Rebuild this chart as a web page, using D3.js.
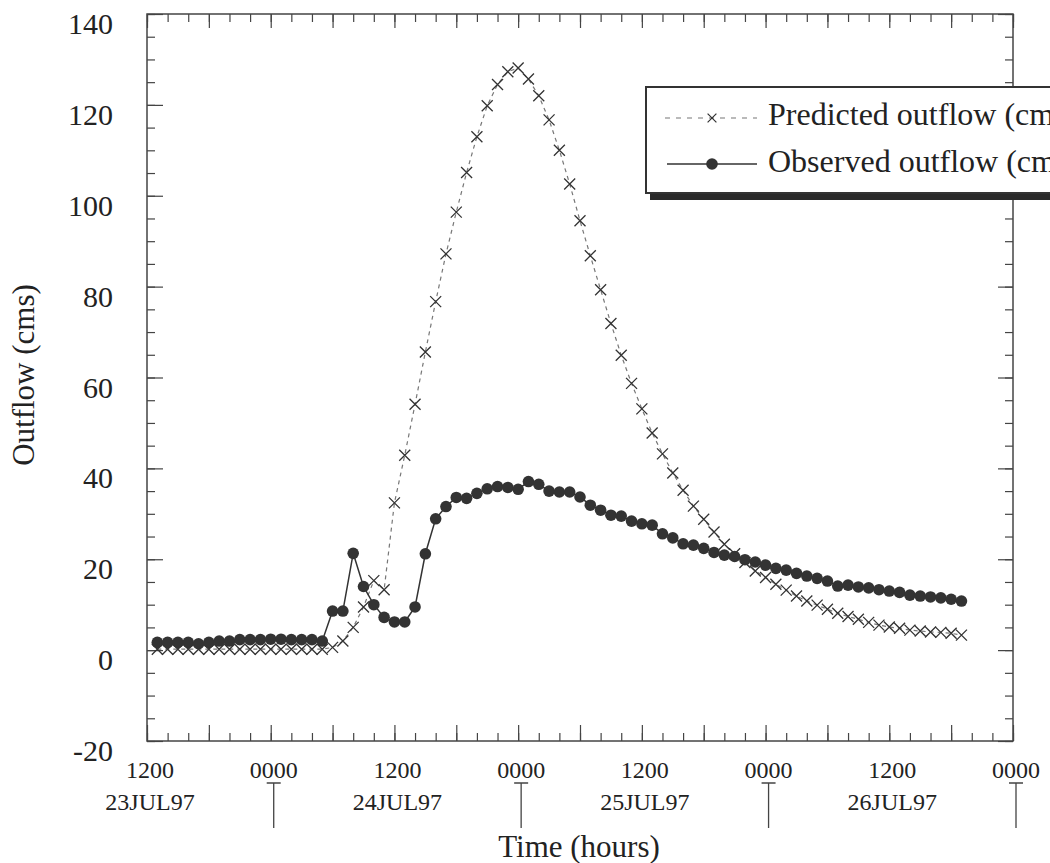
<!DOCTYPE html>
<html>
<head>
<meta charset="utf-8">
<script src="https://cdn.jsdelivr.net/npm/d3@7"></script>
<style>
    body { margin: 0; background: #fff; }
    text { font-family: "Liberation Serif", "Times New Roman", serif; fill: #222; }
</style>
</head>
<body>
<svg id="chart" width="1050" height="863"></svg>
<script>
// hourly samples, hours counted from 1200 23JUL97
const hours = d3.range(1, 80)

const observed = [
    1.7, 1.7, 1.7, 1.7, 1.4, 1.7, 2.0, 2.0, 2.3, 2.3, 2.3, 2.4, 2.4, 2.3, 2.3, 2.3, 2.0,
    8.6, 8.6, 21.3, 14.0, 10.0, 7.2, 6.2, 6.2, 9.5, 21.2,
    28.9, 31.6, 33.6, 33.4, 34.5, 35.5, 36.0, 35.8, 35.4, 37.1, 36.5, 35.0,
    34.8, 34.8, 33.7, 31.9, 30.8, 29.7, 29.5, 28.4, 27.8, 27.5,
    25.6, 24.7, 23.4, 23.1, 22.4, 21.5, 20.9, 20.6, 19.9, 19.4,
    18.7, 18.0, 17.6, 16.9, 16.3, 15.8, 15.2, 14.1, 14.3, 13.9,
    13.7, 13.3, 13.0, 12.7, 12.1, 11.9, 11.7, 11.5, 11.2, 10.8,
]

const predicted = [
    0.2, 0.2, 0.2, 0.2, 0.2, 0.2, 0.2, 0.2, 0.2, 0.2, 0.2, 0.2, 0.2, 0.2, 0.2, 0.2, 0.2,
    0.6, 2.0, 5.0, 9.5, 15.3, 13.3, 32.4, 42.9, 54.1, 65.6,
    76.7, 87.2, 96.4, 105.1, 113.0, 119.8, 124.5, 127.3, 128.1, 125.7, 122.0, 116.7,
    110.0, 102.6, 94.5, 86.8, 79.3, 71.9, 64.9, 58.7, 53.1, 47.8,
    43.2, 39.0, 35.2, 31.7, 28.8, 26.0, 23.3, 21.2, 19.3, 17.4,
    16.0, 14.5, 13.2, 11.9, 10.8, 9.9, 9.0, 8.1, 7.4, 6.8,
    6.1, 5.5, 5.1, 4.8, 4.4, 4.2, 4.0, 3.9, 3.7, 3.3,
]

const yTicks = [-20, 0, 20, 40, 60, 80, 100, 120, 140]
const clockLabels = ["1200", "0000", "1200", "0000", "1200", "0000", "1200", "0000"]
const dateLabels = ["23JUL97", "24JUL97", "25JUL97", "26JUL97"]
const legendLabels = ["Predicted outflow (cms)", "Observed outflow (cms)"]

const ink = "#333"
const svg = d3.select("#chart")

const x = d3.scaleLinear().domain([0, 84]).range([147, 1013])
const y = d3.scaleLinear().domain([-20, 140]).range([741, 14])
const [x0, x1] = x.range()
const [yb, yt] = y.range()

// inward ticks on all four sides
function ticks(axis, at, values, size) {
    const g = svg.append("g")
        .attr("transform", at)
        .call(axis.tickValues(values).tickSize(size).tickFormat(""))
    g.select(".domain").remove()
    g.selectAll("line").attr("stroke", "#444").attr("stroke-width", 1.2)
    return g
}
const minorX = d3.range(0, 85, 2), majorX = d3.range(0, 85, 6)
const minorY = d3.range(-20, 141, 5)
ticks(d3.axisBottom(x), `translate(0,${yb})`, minorX, -8)
ticks(d3.axisBottom(x), `translate(0,${yb})`, majorX, -16)
ticks(d3.axisTop(x), `translate(0,${yt})`, minorX, -8)
ticks(d3.axisTop(x), `translate(0,${yt})`, majorX, -14)
ticks(d3.axisLeft(y), `translate(${x0},0)`, minorY, -8)
ticks(d3.axisRight(y), `translate(${x1},0)`, minorY, -8)
ticks(d3.axisRight(y), `translate(${x1},0)`, yTicks, -15)

const left = svg.append("g")
    .attr("transform", `translate(${x0},0)`)
    .call(d3.axisLeft(y).tickValues(yTicks).tickSize(-16).tickPadding(34)
        .tickFormat((d) => String(d)))
left.select(".domain").remove()
left.selectAll("line").attr("stroke", "#444").attr("stroke-width", 1.2)
left.selectAll("text")
    .attr("dy", "0.65em")
    .style("font-size", "30px")
    .attr("fill", "#222")

svg.append("rect")
    .attr("x", x0).attr("y", yt)
    .attr("width", x1 - x0).attr("height", yb - yt)
    .attr("fill", "none").attr("stroke", "#444").attr("stroke-width", 1.5)

// time labels under the axis
const lab = svg.append("g").attr("transform", "translate(3,0)")
lab.selectAll(".clock")
    .data(clockLabels)
    .join("text")
    .attr("x", (d, i) => x(i * 12))
    .attr("y", 778)
    .attr("text-anchor", "middle")
    .style("font-size", "24px")
    .text((d) => d)
lab.selectAll(".date")
    .data(dateLabels)
    .join("text")
    .attr("x", (d, i) => x(i * 24))
    .attr("y", 810)
    .attr("text-anchor", "middle")
    .style("font-size", "24px")
    .text((d) => d)
const midnights = d3.range(12, 85, 24)
lab.selectAll(".bar")
    .data(midnights)
    .join("path")
    .attr("d", (h) => `M${x(h) - 7},783H${x(h) + 7}M${x(h)},783V828`)
    .attr("fill", "none")
    .attr("stroke", "#444")
    .attr("stroke-width", 1.3)

svg.append("text")
    .attr("x", 579).attr("y", 857)
    .attr("text-anchor", "middle")
    .style("font-size", "31px")
    .text("Time (hours)")

svg.append("text")
    .attr("transform", "translate(34,375) rotate(-90)")
    .attr("text-anchor", "middle")
    .style("font-size", "31px")
    .text("Outflow (cms)")

// series
const predData = hours.map((h, i) => [h, predicted[i]])
const obsData = hours.map((h, i) => [h, observed[i]])
const line = d3.line().x((d) => x(d[0])).y((d) => y(d[1]))
const cross = "M-5.5,-5.5L5.5,5.5M-5.5,5.5L5.5,-5.5"

svg.append("path")
    .datum(predData)
    .attr("d", line)
    .attr("fill", "none")
    .attr("stroke", "#777")
    .attr("stroke-width", 1.2)
    .attr("stroke-dasharray", "4,4")
svg.append("g")
    .selectAll("path")
    .data(predData)
    .join("path")
    .attr("d", cross)
    .attr("transform", (d) => `translate(${x(d[0])},${y(d[1])})`)
    .attr("stroke", ink)
    .attr("stroke-width", 1.3)

svg.append("path")
    .datum(obsData)
    .attr("d", line)
    .attr("fill", "none")
    .attr("stroke", ink)
    .attr("stroke-width", 1.5)
svg.append("g")
    .selectAll("circle")
    .data(obsData)
    .join("circle")
    .attr("cx", (d) => x(d[0]))
    .attr("cy", (d) => y(d[1]))
    .attr("r", 5.8)
    .attr("fill", ink)

// legend (runs past the right edge, as in the original)
const legend = svg.append("g")
legend.append("rect")
    .attr("x", 650).attr("y", 92).attr("width", 420).attr("height", 108)
    .attr("fill", "#2a2a2a")
legend.append("rect")
    .attr("x", 646).attr("y", 87).attr("width", 420).attr("height", 106)
    .attr("fill", "#fff").attr("stroke", "#333").attr("stroke-width", 2)
legend.append("line")
    .attr("x1", 665).attr("x2", 757).attr("y1", 118).attr("y2", 118)
    .attr("stroke", "#777").attr("stroke-width", 1.2).attr("stroke-dasharray", "5,6")
legend.append("path")
    .attr("d", cross).attr("transform", "translate(712,118) scale(0.8)")
    .attr("stroke", ink).attr("stroke-width", 1.5)
legend.append("line")
    .attr("x1", 667).attr("x2", 757).attr("y1", 164).attr("y2", 164)
    .attr("stroke", ink).attr("stroke-width", 1.5)
legend.append("circle")
    .attr("cx", 712).attr("cy", 164).attr("r", 5.8).attr("fill", ink)
legend.selectAll(".lbl")
    .data(legendLabels)
    .join("text")
    .attr("x", 768)
    .attr("y", (d, i) => 125 + i * 47)
    .style("font-size", "32px")
    .text((d) => d)
</script>
</body>
</html>
